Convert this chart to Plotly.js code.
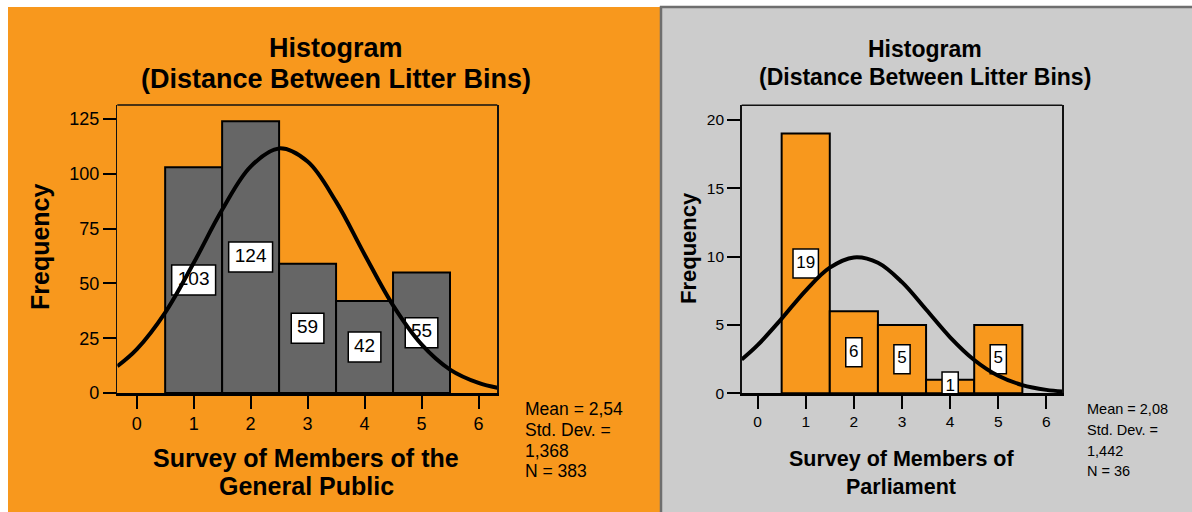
<!DOCTYPE html>
<html>
<head>
<meta charset="utf-8">
<script src="https://cdn.plot.ly/plotly-3.0.1.min.js"></script>
<style>
html,body{margin:0;padding:0;background:#ffffff;}
#chart{width:1192px;height:512px;}
</style>
</head>
<body>
<div id="chart"></div>
<script>
// ---------------- data ----------------
const binCenters = [1, 2, 3, 4, 5];
const publicFreq = [103, 124, 59, 42, 55];
const mpFreq = [19, 6, 5, 1, 5];

// fitted normal curves
const publicCurveX = [-0.34, 0, 0.5, 1, 1.5, 2, 2.5, 3, 3.5, 4, 4.5, 5, 5.5, 6, 6.33];
const publicCurveY = [12.2, 19.9, 36.7, 59.3, 83.6, 103.3, 111.6, 105.6, 87.3, 63.2, 40.0, 22.2, 10.7, 4.6, 2.4];
const mpCurveX = [-0.33, 0, 0.5, 1, 1.5, 2, 2.5, 3, 3.5, 4, 4.5, 5, 5.5, 6, 6.33];
const mpCurveY = [2.47, 3.52, 5.46, 7.52, 9.19, 9.94, 9.55, 8.13, 6.13, 4.10, 2.44, 1.28, 0.60, 0.25, 0.13];

const xTickVals = [0, 1, 2, 3, 4, 5, 6];
const publicYTicks = [0, 25, 50, 75, 100, 125];
const mpYTicks = [0, 5, 10, 15, 20];

const chartTitleLines = ['Histogram', '(Distance Between Litter Bins)'];
const yTitle = 'Frequency';
const publicXTitleLines = ['Survey of Members of the', 'General Public'];
const mpXTitleLines = ['Survey of Members of', 'Parliament'];
const publicStats = ['Mean = 2,54', 'Std. Dev. =', '1,368', 'N = 383'];
const mpStats = ['Mean = 2,08', 'Std. Dev. =', '1,442', 'N = 36'];

// ---------------- styling / layout ----------------
const W = 1192, H = 512;
const FONT = 'Liberation Sans, Arial, Helvetica, sans-serif';
const NARROW = 'Liberation Sans Narrow, Arial Narrow, Liberation Sans, Arial, sans-serif';
const ORANGE = '#F8981D';
const GRAY_BG = '#CCCCCC';

const panels = {
  left:  {l: 117.3, r: 497.3, t: 105.0, b: 393.0, xr: [-0.34, 6.33], yr: [0, 131.4]},
  right: {l: 741.7, r: 1062.3, t: 105.3, b: 393.3, xr: [-0.33, 6.33], yr: [0, 21.07]}
};
function xd(p){ return [p.l / W, p.r / W]; }
function yd(p){ return [1 - p.b / H, 1 - p.t / H]; }
function pxPerX(p){ return (p.r - p.l) / (p.xr[1] - p.xr[0]); }
function pxPerY(p){ return (p.b - p.t) / (p.yr[1] - p.yr[0]); }

function xAxis(p, font, size){
  return {domain: xd(p), range: p.xr, tickvals: xTickVals, ticktext: xTickVals.map(String),
    ticks: 'outside', ticklen: 13, tickwidth: 2, tickcolor: '#000',
    showline: true, linecolor: '#000', linewidth: 2.5, showgrid: false, zeroline: false,
    tickfont: {family: font, size: size, color: '#000'}, fixedrange: true};
}
function yAxis(p, ticks, font, size){
  return {domain: yd(p), range: p.yr, tickvals: ticks, ticktext: ticks.map(String),
    ticks: 'outside', ticklen: 13, tickwidth: 2, tickcolor: '#000',
    showline: true, linecolor: '#111', linewidth: 1.5, mirror: true,
    showgrid: false, zeroline: false,
    tickfont: {family: font, size: size, color: '#000'}, fixedrange: true};
}

// label boxes (drawn as bars so that the curve passes over them, as in the reference)
function labelBoxes(p, vals, xa, ya, boxH, padW, digitW){
  const ppx = pxPerX(p), ppy = pxPerY(p);
  const hU = boxH / ppy;
  return {
    type: 'bar', x: binCenters, xaxis: xa, yaxis: ya,
    y: vals.map(() => hU),
    base: vals.map(v => v / 2 - hU / 2),
    width: vals.map(v => (padW + String(v).length * digitW) / ppx),
    marker: {color: '#ffffff', line: {color: '#000', width: 1.5}},
    hoverinfo: 'skip', showlegend: false
  };
}
function labelText(vals, xa, ya, font, size){
  return {
    type: 'scatter', mode: 'text', x: binCenters, y: vals.map(v => v / 2),
    text: vals.map(String), textposition: 'middle center',
    textfont: {family: font, size: size, color: '#000'},
    xaxis: xa, yaxis: ya, hoverinfo: 'skip', showlegend: false, cliponaxis: true
  };
}

const traces = [
  {type: 'bar', x: binCenters, y: publicFreq, width: 1, xaxis: 'x', yaxis: 'y',
   marker: {color: '#666666', line: {color: '#000', width: 2}}, hoverinfo: 'skip', showlegend: false},
  labelBoxes(panels.left, publicFreq, 'x', 'y', 30, 10, 11.3),
  {type: 'bar', x: binCenters, y: mpFreq, width: 1, xaxis: 'x2', yaxis: 'y2',
   marker: {color: ORANGE, line: {color: '#000', width: 2}}, hoverinfo: 'skip', showlegend: false},
  labelBoxes(panels.right, mpFreq, 'x2', 'y2', 29, 7, 9.2),
  labelText(publicFreq, 'x', 'y', FONT, 19),
  labelText(mpFreq, 'x2', 'y2', NARROW, 17),
  {type: 'scatter', mode: 'lines', x: publicCurveX, y: publicCurveY, xaxis: 'x', yaxis: 'y',
   line: {color: '#000', width: 4, shape: 'spline', smoothing: 1}, hoverinfo: 'skip', showlegend: false},
  {type: 'scatter', mode: 'lines', x: mpCurveX, y: mpCurveY, xaxis: 'x2', yaxis: 'y2',
   line: {color: '#000', width: 4, shape: 'spline', smoothing: 1}, hoverinfo: 'skip', showlegend: false}
];

function P(x, y){ return {x: x / W, y: 1 - y / H, xref: 'paper', yref: 'paper'}; }
function ann(x, y, text, font, size, bold, extra){
  return Object.assign(P(x, y), {text: text, showarrow: false, xanchor: 'center', yanchor: 'middle',
    font: {family: font, size: size, color: '#000', weight: bold ? 'bold' : 'normal'}}, extra || {});
}
function lines(x, ys, texts, font, size, bold, extra){
  return texts.map((t, i) => ann(x, ys[i], t, font, size, bold, extra));
}

const statExtra = {xanchor: 'left', align: 'left'};
const annotations = [].concat(
  lines(336, [48, 79], chartTitleLines, FONT, 27, true),
  lines(925, [49, 77], chartTitleLines, NARROW, 23, true),
  [ann(40, 247, yTitle, FONT, 25, true, {textangle: -90}),
   ann(688, 248, yTitle, NARROW, 22, true, {textangle: -90})],
  lines(306, [458, 486], publicXTitleLines, FONT, 25, true),
  lines(901, [459, 487], mpXTitleLines, NARROW, 21.5, true),
  lines(523, [409, 430, 450.5, 470.5], publicStats, FONT, 17.5, false, statExtra),
  lines(1085, [409, 430, 450.5, 470.5], mpStats, NARROW, 14.5, false, statExtra)
);

const shapes = [
  {type: 'rect', xref: 'paper', yref: 'paper', x0: 8 / W, x1: 660 / W, y0: 0, y1: 1 - 7 / H,
   fillcolor: ORANGE, line: {width: 0}, layer: 'below'},
  {type: 'rect', xref: 'paper', yref: 'paper', x0: 660 / W, x1: 1, y0: 0, y1: 1 - 6 / H,
   fillcolor: GRAY_BG, line: {width: 0}, layer: 'below'},
  {type: 'line', xref: 'paper', yref: 'paper', x0: 661 / W, x1: 661 / W, y0: 0, y1: 1 - 6 / H,
   line: {color: '#6e6e6e', width: 2.5}, layer: 'below'},
  {type: 'line', xref: 'paper', yref: 'paper', x0: 660 / W, x1: 1, y0: 1 - 7 / H, y1: 1 - 7 / H,
   line: {color: '#6e6e6e', width: 2.5}, layer: 'below'},
  {type: 'line', xref: 'x domain', yref: 'y domain', x0: 0, x1: 1, y0: 1, y1: 1,
   line: {color: '#111', width: 1.5}},
  {type: 'line', xref: 'x2 domain', yref: 'y2 domain', x0: 0, x1: 1, y0: 1, y1: 1,
   line: {color: '#111', width: 1.5}}
];

const layout = {
  width: W, height: H,
  margin: {l: 0, r: 0, t: 0, b: 0, pad: 0},
  paper_bgcolor: '#ffffff', plot_bgcolor: '#F0F0F0',
  barmode: 'overlay', showlegend: false,
  xaxis: Object.assign(xAxis(panels.left, FONT, 18), {anchor: 'y'}),
  yaxis: Object.assign(yAxis(panels.left, publicYTicks, FONT, 18), {anchor: 'x'}),
  xaxis2: Object.assign(xAxis(panels.right, NARROW, 15.5), {anchor: 'y2'}),
  yaxis2: Object.assign(yAxis(panels.right, mpYTicks, NARROW, 15.5), {anchor: 'x2'}),
  annotations: annotations,
  shapes: shapes
};

Plotly.newPlot('chart', traces, layout, {staticPlot: true, displayModeBar: false});
</script>
</body>
</html>
